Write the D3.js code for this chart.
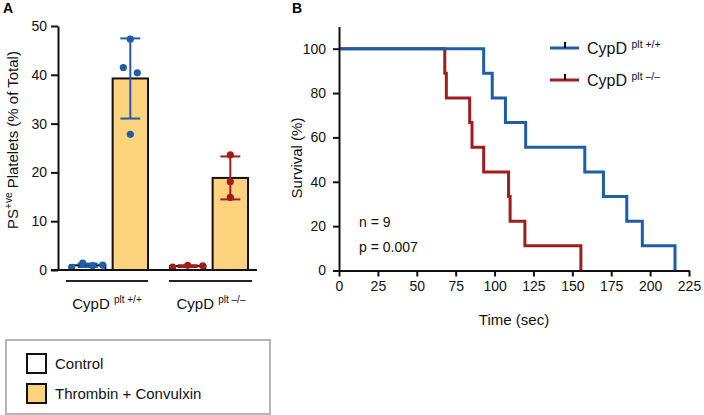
<!DOCTYPE html>
<html>
<head>
<meta charset="utf-8">
<script src="https://cdn.jsdelivr.net/npm/d3@7"></script>
<style>
  body { margin: 0; background: #fff; }
  svg { font-family: "Liberation Sans", Arial, sans-serif; }
</style>
</head>
<body>
<div id="chart"></div>
<script>
// Panel A data
const groups = ["+/+", "–/–"];
const conditions = ["Control", "Thrombin + Convulxin"];
const ctrlWT = [0.55, 1.4, 0.9, 1.0];
const stimWT = [47.3, 41.5, 40.4, 27.8];
const ctrlKO = [0.6, 0.95, 0.85];
const stimKO = [23.6, 18.1, 14.9];
const yTicksA = [0, 10, 20, 30, 40, 50];

// Panel B data (event times, sec)
const timesWT = [93, 98.5, 107, 120, 158, 170, 185, 195, 216];
const timesKO = [68, 69, 84, 85.5, 93, 109, 110, 119.5, 155.5];
const xTicksB = [0, 25, 50, 75, 100, 125, 150, 175, 200, 225];
const yTicksB = [0, 20, 40, 60, 80, 100];

const blue = "#1f5ea6";
const red = "#a11d1d";
const yellow = "#fdd37e";

const width = 704, height = 415;
const svg = d3.select("#chart").append("svg")
    .attr("width", width)
    .attr("height", height);

// ---------- Panel A ----------
svg.append("text").attr("x", 3).attr("y", 13)
    .attr("font-size", 14).attr("font-weight", "bold").text("A");

const yA = d3.scaleLinear().domain([0, 50]).range([270, 26]);
const x0 = d3.scaleBand().domain(groups).range([68, 248]).paddingInner(0.2);
const x1 = d3.scaleBand().domain(conditions).range([2, x0.bandwidth()]).paddingInner(0.17);

const barData = [
    {g: groups[0], c: conditions[0], vals: ctrlWT, col: blue, jit: [-16, -5, 5, 15]},
    {g: groups[0], c: conditions[1], vals: stimWT, col: blue, jit: [0, -7, 7, 0]},
    {g: groups[1], c: conditions[0], vals: ctrlKO, col: red, jit: [-15, 0, 15]},
    {g: groups[1], c: conditions[1], vals: stimKO, col: red, jit: [0, 0, 0]}
];
barData.forEach(d => {
    d.mean = d3.mean(d.vals);
    d.sd = d3.deviation(d.vals);
    d.cx = x0(d.g) + x1(d.c) + x1.bandwidth() / 2;
});

const gA = svg.append("g");

gA.selectAll("rect.bar").data(barData).enter().append("rect")
    .attr("class", "bar")
    .attr("x", d => x0(d.g) + x1(d.c))
    .attr("width", x1.bandwidth())
    .attr("y", d => yA(d.mean))
    .attr("height", d => yA(0) - yA(d.mean))
    .attr("fill", d => d.c === conditions[0] ? "#fff" : yellow)
    .attr("stroke", "#111").attr("stroke-width", 2);

// error bars
const capW = 10;
barData.forEach(d => {
    const g = gA.append("g").attr("stroke", d.col).attr("stroke-width", 2);
    g.append("line").attr("x1", d.cx).attr("x2", d.cx)
        .attr("y1", yA(d.mean - d.sd)).attr("y2", yA(d.mean + d.sd));
    [d.mean - d.sd, d.mean + d.sd].forEach(v => {
        g.append("line").attr("x1", d.cx - capW).attr("x2", d.cx + capW)
            .attr("y1", yA(v)).attr("y2", yA(v));
    });
    gA.selectAll(null).data(d.vals).enter().append("circle")
        .attr("cx", (v, i) => d.cx + d.jit[i])
        .attr("cy", v => yA(v))
        .attr("r", 3.6)
        .attr("fill", d.col);
});

// y axis A
gA.append("g")
    .attr("transform", "translate(58,0)")
    .call(d3.axisLeft(yA).tickValues(yTicksA).tickSize(7).tickSizeOuter(0))
    .call(g => g.select(".domain").attr("stroke-width", 2).attr("stroke", "#111"))
    .call(g => g.selectAll(".tick line").attr("stroke-width", 2).attr("stroke", "#111"))
    .call(g => g.selectAll(".tick text").attr("font-size", 14).attr("fill", "#111")
        .attr("font-family", "Liberation Sans, Arial, sans-serif").attr("x", -11));

// baseline
gA.append("line").attr("x1", 51).attr("x2", 257)
    .attr("y1", yA(0)).attr("y2", yA(0))
    .attr("stroke", "#111").attr("stroke-width", 2);

// group lines and labels
groups.forEach((g, i) => {
    gA.append("line")
        .attr("x1", x0(g) - 2 + i * 3).attr("x2", x0(g) + x0.bandwidth() + i * 4)
        .attr("y1", 281).attr("y2", 281)
        .attr("stroke", "#222").attr("stroke-width", 2);
    const t = gA.append("text")
        .attr("x", x0(g) + x0.bandwidth() / 2 - 1 + i * 4).attr("y", 309)
        .attr("text-anchor", "middle").attr("font-size", 15).attr("fill", "#111");
    t.append("tspan").text("CypD ");
    t.append("tspan").attr("font-size", 10).attr("dy", -6).text("plt " + g);
});

// y label A
const yl = gA.append("text")
    .attr("transform", "translate(18,140) rotate(-90)")
    .attr("text-anchor", "middle").attr("font-size", 15).attr("fill", "#111");
yl.append("tspan").text("PS");
yl.append("tspan").attr("font-size", 10).attr("dy", -6).text("+ve");
yl.append("tspan").attr("dy", 6).text(" Platelets (% of Total)");

// legend A
const leg = svg.append("g");
leg.append("rect").attr("x", 6).attr("y", 340).attr("width", 264).attr("height", 74)
    .attr("fill", "#fff").attr("stroke", "#b5b5b5").attr("stroke-width", 2);
conditions.forEach((c, i) => {
    leg.append("rect").attr("x", 27).attr("y", 354 + i * 30).attr("width", 19).attr("height", 19)
        .attr("fill", i === 0 ? "#fff" : yellow).attr("stroke", "#111").attr("stroke-width", 2);
    leg.append("text").attr("x", 55).attr("y", 369 + i * 30)
        .attr("font-size", 15).attr("fill", "#111").text(c);
});

// ---------- Panel B ----------
svg.append("text").attr("x", 292).attr("y", 13)
    .attr("font-size", 14).attr("font-weight", "bold").text("B");

const xB = d3.scaleLinear().domain([0, 225]).range([339, 689]);
const yB = d3.scaleLinear().domain([0, 110]).range([270.5, 26.5]);

function survival(times) {
    const n = times.length;
    const pts = [[0, 100]];
    times.forEach((t, i) => pts.push([t, 100 * (n - i - 1) / n]));
    return pts;
}

const kmLine = d3.line()
    .x(d => xB(d[0]))
    .y(d => yB(d[1]))
    .curve(d3.curveStepAfter);

const gB = svg.append("g");

gB.append("path").datum(survival(timesKO))
    .attr("d", kmLine).attr("fill", "none")
    .attr("stroke", red).attr("stroke-width", 3);
gB.append("path").datum(survival(timesWT))
    .attr("d", kmLine).attr("fill", "none")
    .attr("stroke", blue).attr("stroke-width", 3);

gB.append("g")
    .attr("transform", `translate(0,${yB(0)})`)
    .call(d3.axisBottom(xB).tickValues(xTicksB).tickSize(6).tickSizeOuter(0))
    .call(g => g.select(".domain").attr("stroke-width", 2).attr("stroke", "#111"))
    .call(g => g.selectAll(".tick line").attr("stroke-width", 2).attr("stroke", "#111"))
    .call(g => g.selectAll(".tick text").attr("font-size", 14).attr("fill", "#111")
        .attr("font-family", "Liberation Sans, Arial, sans-serif").attr("y", 11));

gB.append("g")
    .attr("transform", `translate(${xB(0)},0)`)
    .call(d3.axisLeft(yB).tickValues(yTicksB).tickSize(6).tickSizeOuter(0))
    .call(g => g.select(".domain").attr("stroke-width", 2).attr("stroke", "#111"))
    .call(g => g.selectAll(".tick line").attr("stroke-width", 2).attr("stroke", "#111"))
    .call(g => g.selectAll(".tick text").attr("font-size", 14).attr("fill", "#111")
        .attr("font-family", "Liberation Sans, Arial, sans-serif").attr("x", -13));

gB.append("text").attr("x", xB(112.5)).attr("y", 325)
    .attr("text-anchor", "middle").attr("font-size", 15).attr("fill", "#111").text("Time (sec)");
gB.append("text").attr("transform", "translate(302,158) rotate(-90)")
    .attr("text-anchor", "middle").attr("font-size", 15).attr("fill", "#111").text("Survival (%)");

gB.append("text").attr("x", 359).attr("y", 227).attr("font-size", 14).attr("fill", "#111").text("n = 9");
gB.append("text").attr("x", 359).attr("y", 252).attr("font-size", 14).attr("fill", "#111").text("p = 0.007");

// legend B
[[groups[0], blue], [groups[1], red]].forEach(([g, col], i) => {
    const y = 48 + i * 32;
    gB.append("line").attr("x1", 550).attr("x2", 579).attr("y1", y).attr("y2", y)
        .attr("stroke", col).attr("stroke-width", 3);
    gB.append("line").attr("x1", 565).attr("x2", 565).attr("y1", y).attr("y2", y - 6)
        .attr("stroke", "#111").attr("stroke-width", 2);
    const t = gB.append("text").attr("x", 587).attr("y", y + 6)
        .attr("font-size", 16).attr("fill", "#111");
    t.append("tspan").text("CypD ");
    t.append("tspan").attr("font-size", 10.5).attr("dy", -6).text("plt " + g);
});
</script>
</body>
</html>
